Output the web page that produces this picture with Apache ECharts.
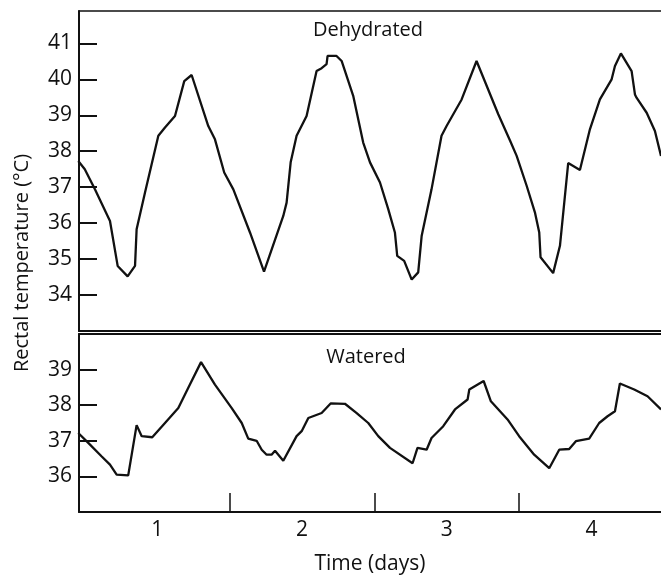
<!DOCTYPE html>
<html>
<head>
<meta charset="utf-8">
<script src="https://cdn.jsdelivr.net/npm/echarts@6/dist/echarts.min.js"></script>
<style>html,body{margin:0;padding:0;background:#fff}#c{width:661px;height:580px}</style>
</head>
<body>
<div id="c"></div>
<script>
// ---- Data ----
const dehydratedDays = [0.455,0.50,0.57,0.674,0.727,0.796,0.847,0.858,0.916,1.008,1.054,1.123,1.187,1.238,1.353,1.399,1.463,1.526,1.641,1.738,1.871,1.894,1.922,1.963,2.032,2.101,2.136,2.17,2.177,2.239,2.274,2.354,2.423,2.47,2.539,2.596,2.642,2.658,2.706,2.758,2.803,2.827,2.895,2.964,2.999,3.103,3.206,3.356,3.437,3.483,3.552,3.609,3.639,3.648,3.735,3.782,3.839,3.92,3.989,4.058,4.139,4.162,4.203,4.277,4.3,4.311,4.381,4.438,4.48];
const dehydratedTemp = [37.73,37.50,36.94,36.06,34.81,34.52,34.81,35.83,36.85,38.43,38.66,38.98,39.95,40.12,38.70,38.33,37.41,36.94,35.74,34.65,36.20,36.57,37.69,38.43,38.98,40.23,40.31,40.42,40.65,40.65,40.51,39.54,38.24,37.69,37.13,36.39,35.74,35.09,34.95,34.43,34.63,35.65,36.94,38.43,38.70,39.44,40.51,39.03,38.30,37.87,37.04,36.30,35.74,35.05,34.61,35.37,37.67,37.48,38.61,39.44,40.00,40.37,40.72,40.23,39.58,39.49,39.07,38.56,37.87];

const wateredDays = [0.455,0.524,0.617,0.674,0.72,0.80,0.858,0.893,0.966,1.054,1.146,1.215,1.303,1.399,1.515,1.584,1.629,1.687,1.722,1.756,1.79,1.814,1.871,1.963,1.998,2.044,2.136,2.198,2.297,2.378,2.458,2.527,2.608,2.764,2.798,2.861,2.895,2.976,3.057,3.144,3.156,3.255,3.305,3.42,3.5,3.604,3.708,3.777,3.846,3.892,3.984,4.053,4.111,4.162,4.196,4.295,4.387,4.48];
const wateredTemp = [37.22,36.94,36.56,36.33,36.05,36.03,37.44,37.13,37.10,37.50,37.92,38.49,39.21,38.58,37.92,37.50,37.06,37.00,36.75,36.61,36.61,36.72,36.44,37.13,37.27,37.64,37.78,38.05,38.04,37.78,37.50,37.13,36.80,36.37,36.80,36.75,37.08,37.41,37.88,38.16,38.44,38.68,38.11,37.60,37.13,36.61,36.23,36.75,36.77,36.99,37.06,37.50,37.69,37.83,38.61,38.44,38.25,37.88];

const topTicks = [34,35,36,37,38,39,40,41];
const bottomTicks = [36,37,38,39];
const dayLabels = [1,2,3,4];
const halfDayTicks = [1.5,2.5,3.5];

const panelTitles = ['Dehydrated','Watered'];
const xTitle = 'Time (days)';
const yTitle = 'Rectal temperature (°C)';

// ---- Chart ----
const FONT = 'Open Sans';
const INK = '#111';
const chart = echarts.init(document.getElementById('c'), null, {renderer:'canvas'});

const xMin = 0.46, xMax = 4.48;
function xBase(gridIndex, position, lineW, extra) {
  return Object.assign({
    type:'value', gridIndex, position, min:xMin, max:xMax,
    axisLine:{show:true, onZero:false, lineStyle:{color:INK, width:lineW}},
    axisTick:{show:false}, axisLabel:{show:false}, splitLine:{show:false}
  }, extra || {});
}
function yBase(gridIndex, min, max, ticks) {
  return {
    type:'value', gridIndex, min, max,
    axisLine:{show:true, onZero:false, lineStyle:{color:INK, width:2}},
    axisTick:{show:true, inside:true, length:18, customValues:ticks, lineStyle:{color:INK, width:2}},
    axisLabel:{show:true, customValues:ticks, margin:7, color:INK, fontFamily:FONT, fontSize:21},
    splitLine:{show:false}
  };
}

chart.setOption({
  animation:false,
  backgroundColor:'#fff',
  grid:[
    {left:79, right:0, top:11, height:320},
    {left:79, right:0, top:334, height:178}
  ],
  xAxis:[
    xBase(0,'bottom',2),
    xBase(0,'top',1.5),
    xBase(1,'top',2),
    xBase(1,'bottom',2,{
      axisTick:{show:true, inside:true, length:19, customValues:halfDayTicks, lineStyle:{color:INK, width:1.5}},
      axisLabel:{show:true, customValues:dayLabels, margin:8, color:INK, fontFamily:FONT, fontSize:21},
      name:xTitle, nameLocation:'middle', nameGap:42,
      nameTextStyle:{color:INK, fontFamily:FONT, fontSize:21}
    })
  ],
  yAxis:[
    yBase(0,33,41.9,topTicks),
    yBase(1,35,40,bottomTicks)
  ],
  series:[
    {type:'line', xAxisIndex:0, yAxisIndex:0, showSymbol:false, silent:true,
     data:dehydratedDays.map((d,i)=>[d,dehydratedTemp[i]]),
     lineStyle:{color:INK, width:2.3}},
    {type:'line', xAxisIndex:3, yAxisIndex:1, showSymbol:false, silent:true,
     data:wateredDays.map((d,i)=>[d,wateredTemp[i]]),
     lineStyle:{color:INK, width:2.3}}
  ],
  graphic:[
    {type:'text', x:368, y:30, style:{text:panelTitles[0], fill:INK, font:'20px "Open Sans"', align:'center', verticalAlign:'middle'}},
    {type:'text', x:366, y:357, style:{text:panelTitles[1], fill:INK, font:'20px "Open Sans"', align:'center', verticalAlign:'middle'}},
    {type:'text', x:22, y:263, rotation:Math.PI/2, style:{text:yTitle, fill:INK, font:'20px "Open Sans"', align:'center', verticalAlign:'middle'}}
  ]
});
</script>
</body>
</html>
